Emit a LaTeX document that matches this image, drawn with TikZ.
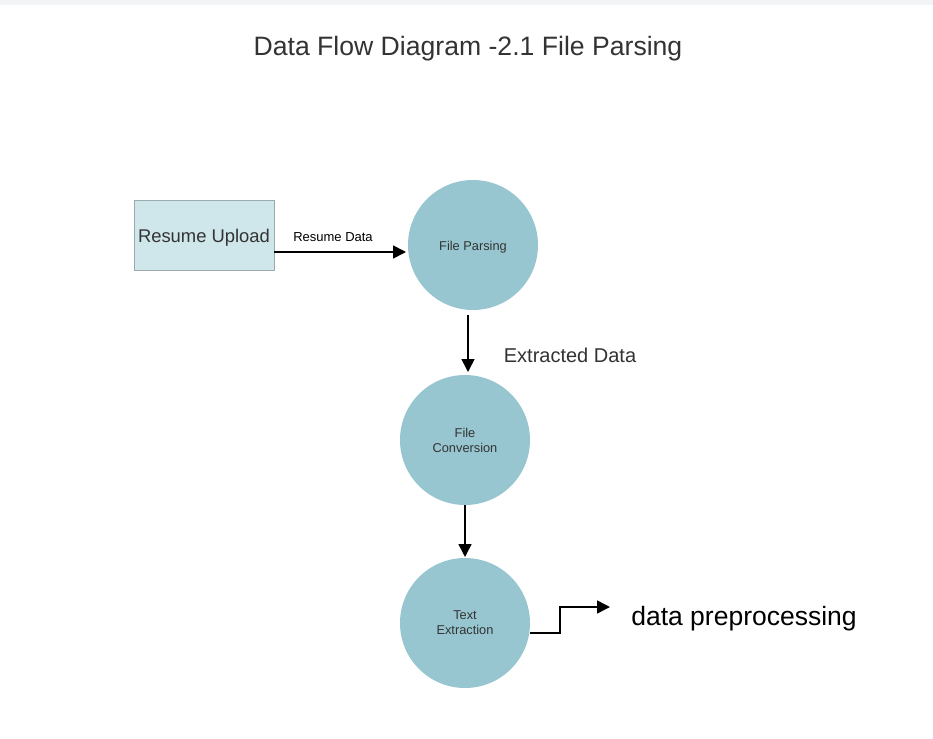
\documentclass[tikz,border=0pt]{standalone}
\usepackage{fontspec}
\setmainfont{Liberation Sans}
\usetikzlibrary{arrows.meta}
\definecolor{band}{HTML}{F3F4F6}
\definecolor{txt}{HTML}{333333}
\definecolor{boxfill}{HTML}{CFE7EA}
\definecolor{boxline}{HTML}{9AAAAD}
\definecolor{proc}{HTML}{97C6D0}
\tikzset{
  procnode/.style={circle, fill=proc, minimum size=130pt, inner sep=0pt, align=center, font=\fontsize{12.8}{15}\selectfont, text=txt},
  flow/.style={-{Triangle[length=13pt,width=13pt]}, line width=1.6pt, black},
}
\begin{document}
\begin{tikzpicture}[x=1pt,y=-1pt]
\useasboundingbox (0,0) rectangle (933,738);
\fill[white] (0,0) rectangle (933,738);
\fill[band] (0,0) rectangle (933,5);
\node[text=txt, font=\fontsize{26.6}{30}\selectfont] (title) at (468,49) {Data Flow Diagram -2.1 File Parsing};
\node[draw=boxline, fill=boxfill, minimum width=140pt, minimum height=70pt, inner sep=0pt, text=txt, font=\fontsize{18.4}{22}\selectfont, text height=15.4pt, text depth=0pt] (upload) at (204,235) {Resume Upload};
\node[procnode, text height=10.6pt, text depth=0pt] (parse) at (473,245) {File Parsing};
\node[procnode] (conv) at (465,440) {File\\Conversion};
\node[procnode] (textx) at (465,623) {Text\\Extraction};
\node[font=\fontsize{26.5}{30}\selectfont, text=black] (pre) at (744,619) {data preprocessing};
\coordinate (preend) at (610,607);
\draw[flow] (upload.east |- 0,252) -- (406,252) coordinate (parsein);
\node[font=\fontsize{13}{15}\selectfont, text=black] (rdlab) at (333,237) {Resume Data};
\draw[flow] (468,315) -- (468,372);
\node[font=\fontsize{20}{24}\selectfont, text=txt] (edlab) at (570,355) {Extracted Data};
\draw[flow] (conv.south) -- (465,557);
\draw[flow] (textx.east |- 0,633) -- (560,633) -- (560,607) -- (preend);
\end{tikzpicture}
\end{document}
